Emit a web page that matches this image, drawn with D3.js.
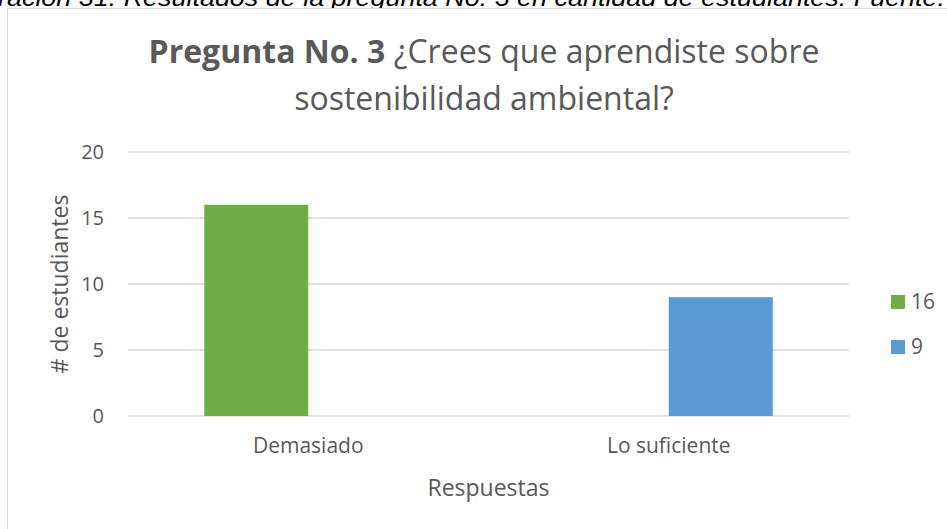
<!DOCTYPE html>
<html>
<head>
<meta charset="utf-8">
<script src="https://cdn.jsdelivr.net/npm/d3@7"></script>
<style>
  html, body { margin: 0; padding: 0; background: #fff; overflow: hidden; }
  svg { display: block; }
</style>
</head>
<body>
<svg id="chart" width="947" height="529"></svg>
<script>
// Chart data
const categories = ["Demasiado", "Lo suficiente"];
const seriesNames = ["16", "9"];
const seriesDemasiadoValues = [16, null];   // series "16"
const seriesSuficienteValues = [null, 9];   // series "9"
const seriesColors = ["#70ad47", "#5b9bd5"];
const yTicks = [0, 5, 10, 15, 20];

const series = seriesNames.map((name, i) => ({
  name,
  color: seriesColors[i],
  values: i === 0 ? seriesDemasiadoValues : seriesSuficienteValues
}));

const svg = d3.select("#chart");
const font = "'Open Sans', 'Noto Sans', sans-serif";
const textColor = "#595959";

// Caption of the document page, cut by the top edge
svg.append("text")
  .attr("x", -2).attr("y", 6)
  .attr("font-family", "'Liberation Sans', Arial, sans-serif")
  .attr("font-style", "italic")
  .attr("font-size", 23)
  .attr("fill", "#000")
  .attr("textLength", 947)
  .attr("lengthAdjust", "spacingAndGlyphs")
  .text("ración 31. Resultados de la pregunta No. 3 en cantidad de estudiantes. Fuente:");

// Chart area frame
svg.append("rect")
  .attr("x", 7.5).attr("y", 8.5)
  .attr("width", 960).attr("height", 540)
  .attr("fill", "#fff")
  .attr("stroke", "#d9d9d9")
  .attr("stroke-width", 1);

const plot = { left: 128, right: 849, top: 152, bottom: 416 };

const x0 = d3.scaleBand().domain(categories).range([plot.left, plot.right]).padding(0);
const x1 = d3.scaleBand().domain(seriesNames).range([0, x0.bandwidth()])
  .paddingInner(0).paddingOuter(0.733);
const y = d3.scaleLinear().domain([0, 20]).range([plot.bottom, plot.top]);

// Gridlines
svg.append("g")
  .selectAll("line")
  .data(yTicks)
  .join("line")
  .attr("x1", plot.left).attr("x2", plot.right)
  .attr("y1", d => y(d)).attr("y2", d => y(d))
  .attr("stroke", "#d9d9d9")
  .attr("stroke-width", 1.5);

// Y axis labels
const yAxis = d3.axisLeft(y).tickValues(yTicks).tickSize(0).tickPadding(0);
const yg = svg.append("g").attr("transform", `translate(${plot.left - 24},0)`).call(yAxis);
yg.select(".domain").remove();
yg.selectAll("text")
  .attr("font-family", font).attr("font-size", 20)
  .attr("fill", textColor);

// Bars
svg.append("g")
  .selectAll("g")
  .data(series)
  .join("g")
  .attr("fill", d => d.color)
  .selectAll("rect")
  .data(s => categories.map((c, i) => ({ c, s: s.name, v: s.values[i] })).filter(d => d.v != null))
  .join("rect")
  .attr("x", d => x0(d.c) + x1(d.s))
  .attr("y", d => y(d.v))
  .attr("width", x1.bandwidth())
  .attr("height", d => y(0) - y(d.v));

// X axis labels
const xAxis = d3.axisBottom(x0).tickSize(0).tickPadding(0);
const xg = svg.append("g").attr("transform", `translate(0,${plot.bottom + 22})`).call(xAxis);
xg.select(".domain").remove();
xg.selectAll("text")
  .attr("font-family", font).attr("font-size", 21)
  .attr("fill", textColor);

// Axis titles
svg.append("text")
  .attr("x", (plot.left + plot.right) / 2).attr("y", 496)
  .attr("text-anchor", "middle")
  .attr("font-family", font).attr("font-size", 23)
  .attr("fill", textColor)
  .text("Respuestas");

svg.append("text")
  .attr("transform", `translate(68,${(plot.top + plot.bottom) / 2}) rotate(-90)`)
  .attr("text-anchor", "middle")
  .attr("font-family", font).attr("font-size", 23)
  .attr("fill", textColor)
  .text("# de estudiantes");

// Title
const title = svg.append("text")
  .attr("text-anchor", "middle")
  .attr("font-family", font).attr("font-size", 32)
  .attr("fill", textColor);
const line1 = title.append("tspan").attr("x", 484).attr("y", 63);
line1.append("tspan").attr("font-weight", "bold").text("Pregunta No. 3");
line1.append("tspan").text(" ¿Crees que aprendiste sobre");
title.append("tspan").attr("x", 484).attr("y", 110).text("sostenibilidad ambiental?");

// Legend
const legend = svg.append("g")
  .selectAll("g")
  .data(series)
  .join("g")
  .attr("transform", (d, i) => `translate(891,${295 + i * 45})`);
legend.append("rect")
  .attr("width", 14).attr("height", 14)
  .attr("fill", d => d.color);
legend.append("text")
  .attr("x", 20).attr("y", 7)
  .attr("dy", "0.35em")
  .attr("font-family", font).attr("font-size", 21)
  .attr("fill", textColor)
  .text(d => d.name);
</script>
</body>
</html>
